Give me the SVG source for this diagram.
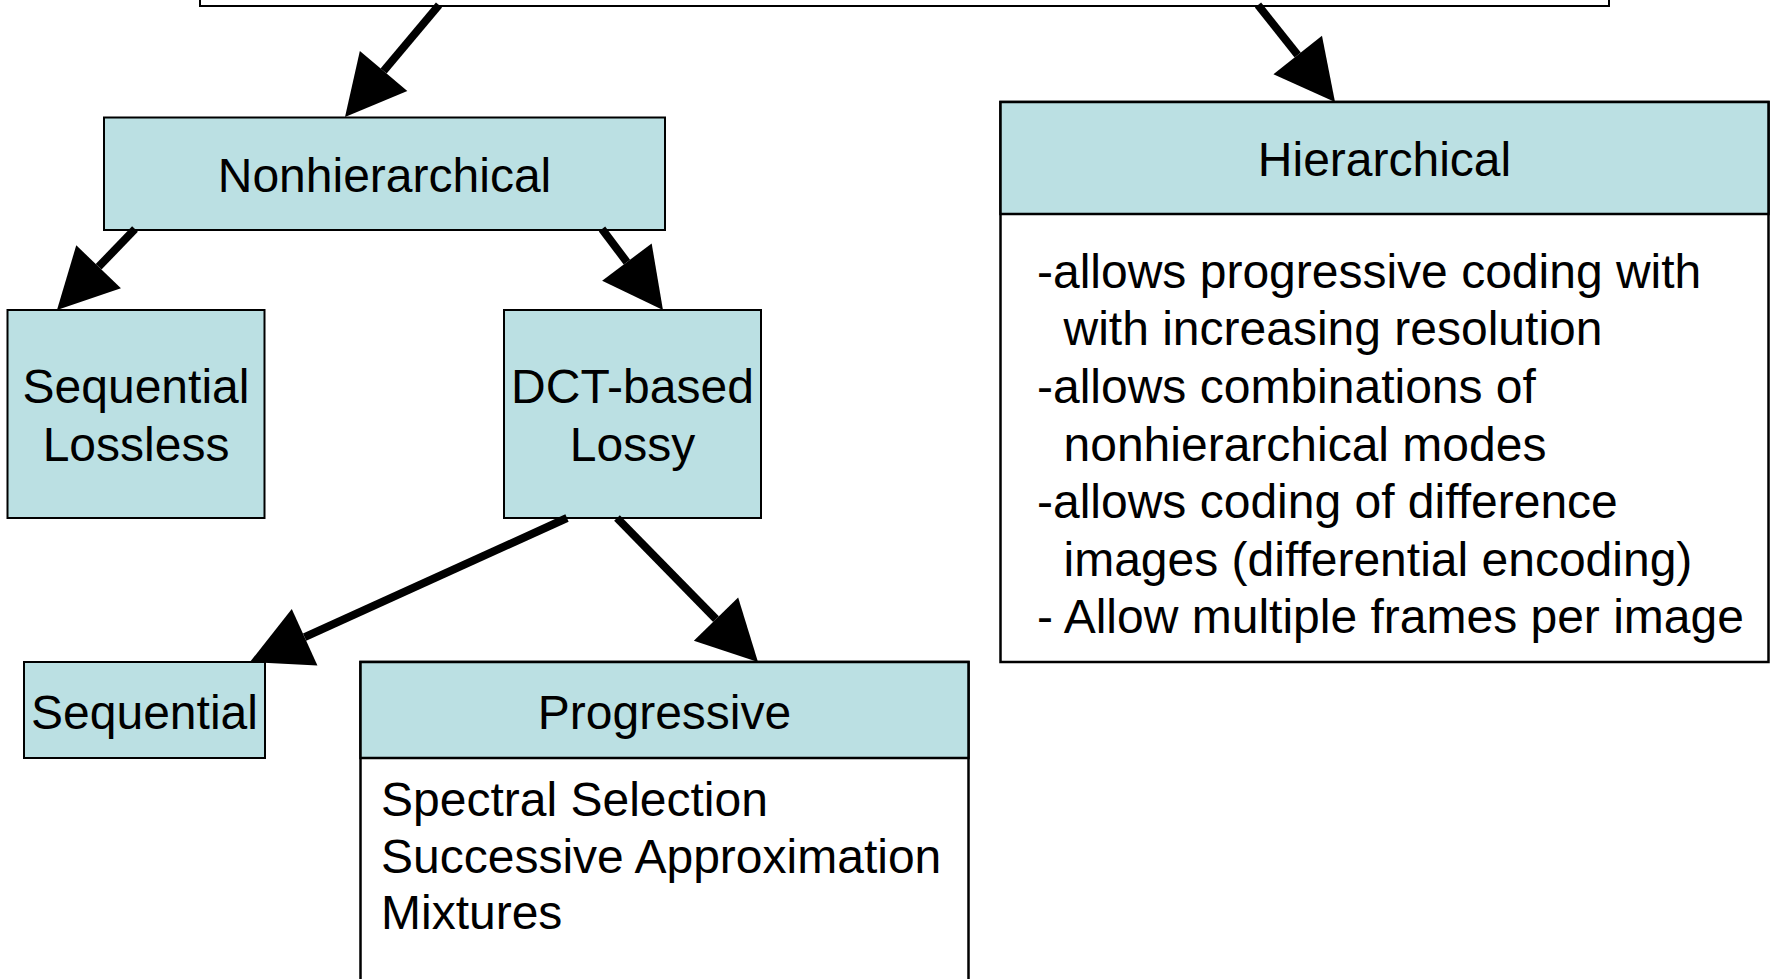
<svg xmlns="http://www.w3.org/2000/svg" width="1777" height="979" viewBox="0 0 1777 979">
<style>
.box{fill:#BBE0E3;stroke:#000;stroke-width:2}
.boxw{fill:#FFFFFF;stroke:#000;stroke-width:2}
.thick{stroke-width:2.5}
.t{font-family:"Liberation Sans",Arial,Helvetica,sans-serif;font-size:48px;fill:#000}
.c{text-anchor:middle}
.conn{stroke:#000;stroke-width:8;fill:none;stroke-linecap:butt}
</style>
<defs>
<marker id="ah" markerUnits="userSpaceOnUse" markerWidth="60" markerHeight="62" viewBox="0 -31 60 62" refX="0" refY="0" orient="auto" overflow="visible">
<path d="M0,-31 L60,0 L0,31 Z" fill="#000"/>
</marker>
</defs>
<rect width="1777" height="979" fill="#FFFFFF"/>
<g id="top">
<rect class="boxw" x="200" y="-40" width="1409" height="46"/>
</g>
<g id="nonhierarchical">
<rect class="box" x="104" y="117.5" width="561" height="112.5"/>
<text class="t c" x="384.5" y="192">Nonhierarchical</text>
</g>
<g id="sequential-lossless">
<rect class="box" x="7.5" y="310" width="257" height="208"/>
<text class="t c" x="136" y="403">Sequential</text>
<text class="t c" x="136" y="460.5">Lossless</text>
</g>
<g id="dct-lossy">
<rect class="box" x="504" y="310" width="257" height="208"/>
<text class="t c" x="632.5" y="403">DCT-based</text>
<text class="t c" x="632.5" y="460.5">Lossy</text>
</g>
<g id="sequential">
<rect class="box" x="24" y="662" width="241" height="96"/>
<text class="t c" x="144.5" y="729">Sequential</text>
</g>
<g id="progressive">
<rect class="boxw thick" x="360.5" y="662" width="608" height="340"/>
<rect class="box thick" x="360.5" y="662" width="608" height="96"/>
<text class="t c" x="664.5" y="729">Progressive</text>
<text class="t" x="381" y="816">Spectral Selection</text>
<text class="t" x="381" y="872.5">Successive Approximation</text>
<text class="t" x="381" y="929">Mixtures</text>
</g>
<g id="hierarchical">
<rect class="boxw thick" x="1000.5" y="102" width="768" height="560"/>
<rect class="box thick" x="1000.5" y="102" width="768" height="112"/>
<text class="t c" x="1384.5" y="176">Hierarchical</text>
<text class="t" x="1037" y="287.5">-allows progressive coding with</text>
<text class="t" x="1063.5" y="345">with increasing resolution</text>
<text class="t" x="1037" y="403">-allows combinations of</text>
<text class="t" x="1063.5" y="460.5">nonhierarchical modes</text>
<text class="t" x="1037" y="518">-allows coding of difference</text>
<text class="t" x="1063.5" y="575.5">images (differential encoding)</text>
<text class="t" x="1037" y="633">- Allow multiple frames per image</text>
</g>
<g id="connectors">
<line class="conn" x1="439" y1="5" x2="383.6" y2="71" marker-end="url(#ah)"/>
<line class="conn" x1="1258" y1="5" x2="1297.7" y2="55" marker-end="url(#ah)"/>
<line class="conn" x1="135" y1="229" x2="98.6" y2="266.8" marker-end="url(#ah)"/>
<line class="conn" x1="602" y1="229" x2="626.9" y2="262.1" marker-end="url(#ah)"/>
<line class="conn" x1="567" y1="518" x2="304.6" y2="637.2" marker-end="url(#ah)"/>
<line class="conn" x1="617" y1="518" x2="716" y2="619.1" marker-end="url(#ah)"/>
</g>
</svg>
